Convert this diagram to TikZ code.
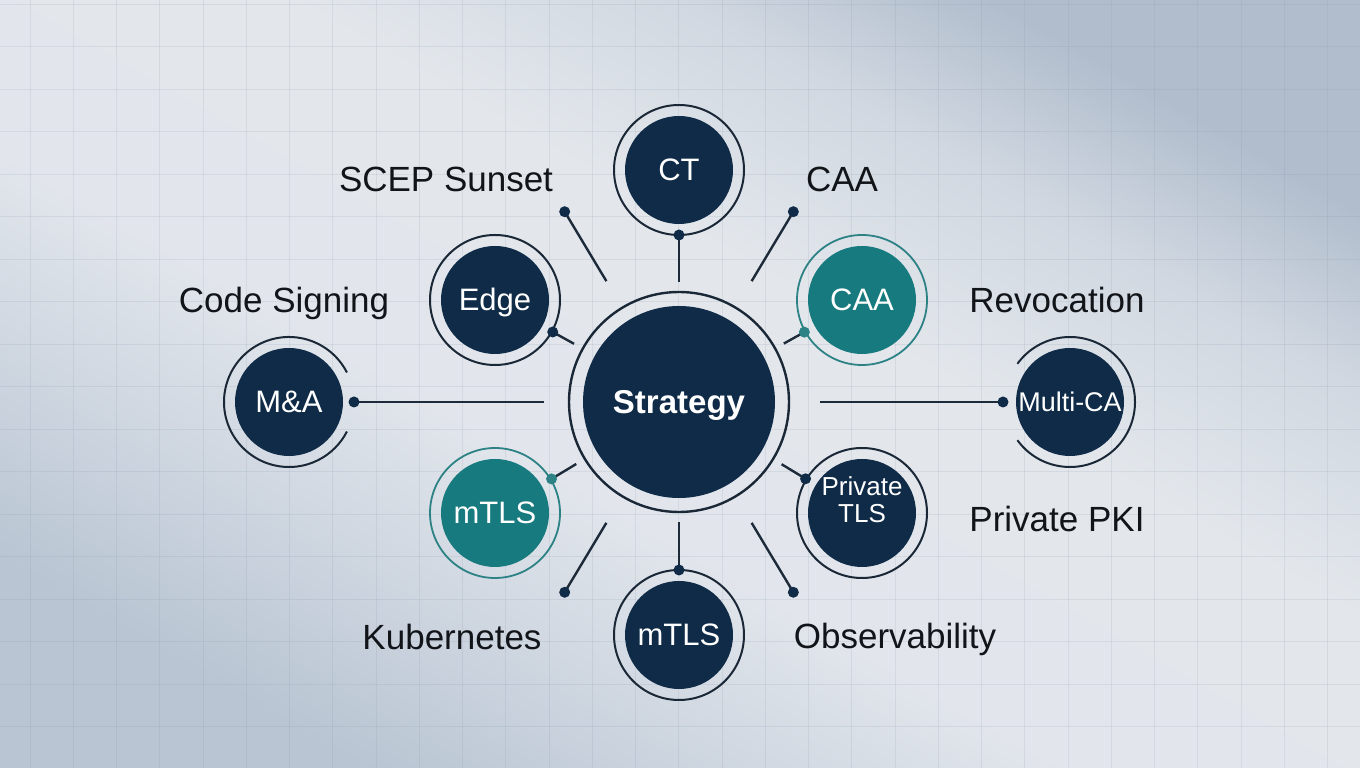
\documentclass[tikz,border=0pt]{standalone}
\usepackage{fontspec}
\setmainfont{Liberation Sans}
\usetikzlibrary{calc}
\definecolor{navy}{HTML}{0F2B47}
\definecolor{tealf}{HTML}{177A7E}
\definecolor{tealr}{HTML}{2C8285}
\definecolor{ringc}{HTML}{1A2736}
\definecolor{linec}{HTML}{1C2A3A}
\definecolor{txt}{HTML}{111418}
\definecolor{bgA}{HTML}{B9C5D3}
\definecolor{bgB}{HTML}{CED6E0}
\definecolor{bgC}{HTML}{E2E6EC}
\definecolor{bgC2}{HTML}{E3E7EC}
\definecolor{bgD}{HTML}{D1D8E1}
\definecolor{bgE}{HTML}{B1BDCD}
\definecolor{gridc}{HTML}{7F8FA3}
\pgfdeclarehorizontalshading{bgshade}{100bp}{color(0bp)=(bgA); color(25bp)=(bgA); color(34bp)=(bgB); color(43bp)=(bgC); color(57bp)=(bgC2); color(67bp)=(bgD); color(75bp)=(bgE); color(100bp)=(bgE)}
\begin{document}
\begin{tikzpicture}[x=1pt,y=1pt,
 hubnode/.style={circle, fill=navy, minimum size=192pt, inner sep=0pt, text=white, font=\fontsize{33}{38}\selectfont\bfseries, text height=23.6pt, text depth=0pt},
 sat/.style={circle, fill=navy, minimum size=108pt, inner sep=0pt, text=white, font=\fontsize{31}{36}\selectfont, text height=22pt, text depth=0pt},
 satteal/.style={sat, fill=tealf},
 ringline/.style={draw=ringc, line width=2pt},
 tealring/.style={draw=tealr, line width=1.8pt},
 conn/.style={draw=linec, line width=2.4pt},
 dotdark/.style={fill=navy},
 dotteal/.style={fill=tealr},
 lbl/.style={text=txt, font=\fontsize{35}{40}\selectfont, inner sep=0pt, text height=25pt, text depth=0pt},
 gridline/.style={draw=gridc, opacity=0.15, line width=1pt}
]
\shade[shading=bgshade, shading angle=60] (0,0) rectangle (1360,768);
\useasboundingbox (0,0) rectangle (1360,768);
\foreach \i in {0,...,30} \draw[gridline] ({30+43.25*\i},0) -- ++(0,768);
\foreach \j in {0,...,17} \draw[gridline] (0,{763.5-42.5*\j}) -- ++(1360,0);

% nodes
\node[hubnode] (hub) at (679,366) {Strategy};
\node[sat] (ct) at (679,598) {CT};
\node[sat] (edge) at (495,468) {Edge};
\node[satteal] (caa) at (862,468) {CAA};
\node[sat] (ma) at (289,366) {M\&A};
\node[sat, font=\fontsize{27}{32}\selectfont, text height=19.5pt] (multi) at (1070,366) {Multi-CA};
\node[satteal] (mtlsa) at (495,255) {mTLS};
\node[sat, align=center, font=\fontsize{26}{27}\selectfont, text height=18.7pt] (ptls) at (862,255) {Private\\TLS};
\node[sat] (mtlsb) at (679,133) {mTLS};

% rings
\draw[ringline, line width=2.4pt] (hub.center) circle (110);
\foreach \n in {ct,edge,ptls,mtlsb} \draw[ringline] (\n.center) circle (65);
\foreach \n in {caa,mtlsa} \draw[tealring] (\n.center) circle (65);
\draw[ringline] ($(ma.center)+(27:65)$) arc[start angle=27, end angle=333, radius=65];
\draw[ringline] ($(multi.center)+(-144:65)$) arc[start angle=-144, end angle=144, radius=65];

% connectors to satellites
\foreach \n/\a/\b/\s in {ct/120/65/dotdark, edge/120/66/dotdark, caa/120/66/dotteal, ma/135/65/dotdark, multi/141/67/dotdark, mtlsa/120/66/dotteal, ptls/120/66/dotdark, mtlsb/120/65/dotdark} {
  \coordinate (d\n) at ($(\n.center)!\b pt!(hub.center)$);
  \draw[conn] ($(hub.center)!\a pt!(\n.center)$) -- (d\n);
  \fill[\s] (d\n) circle (5.5);
}

% free spokes
\foreach \ang/\nm in {121/fa, 59/fb, 239/fc, 301/fd} {
  \coordinate (\nm) at ($(hub.center)+(\ang:222)$);
  \draw[conn] ($(hub.center)+(\ang:141)$) -- (\nm);
  \fill[dotdark] (\nm) circle (5.5);
}

% labels
\node[lbl] (l1) at (446,589) {SCEP Sunset};
\node[lbl] (l2) at (842,589) {CAA};
\node[lbl] (l3) at (284,468) {Code Signing};
\node[lbl] (l4) at (1057,468) {Revocation};
\node[lbl] (l5) at (1057,249) {Private PKI};
\node[lbl] (l6) at (452,131) {Kubernetes};
\node[lbl] (l7) at (895,132) {Observability};
\end{tikzpicture}
\end{document}
